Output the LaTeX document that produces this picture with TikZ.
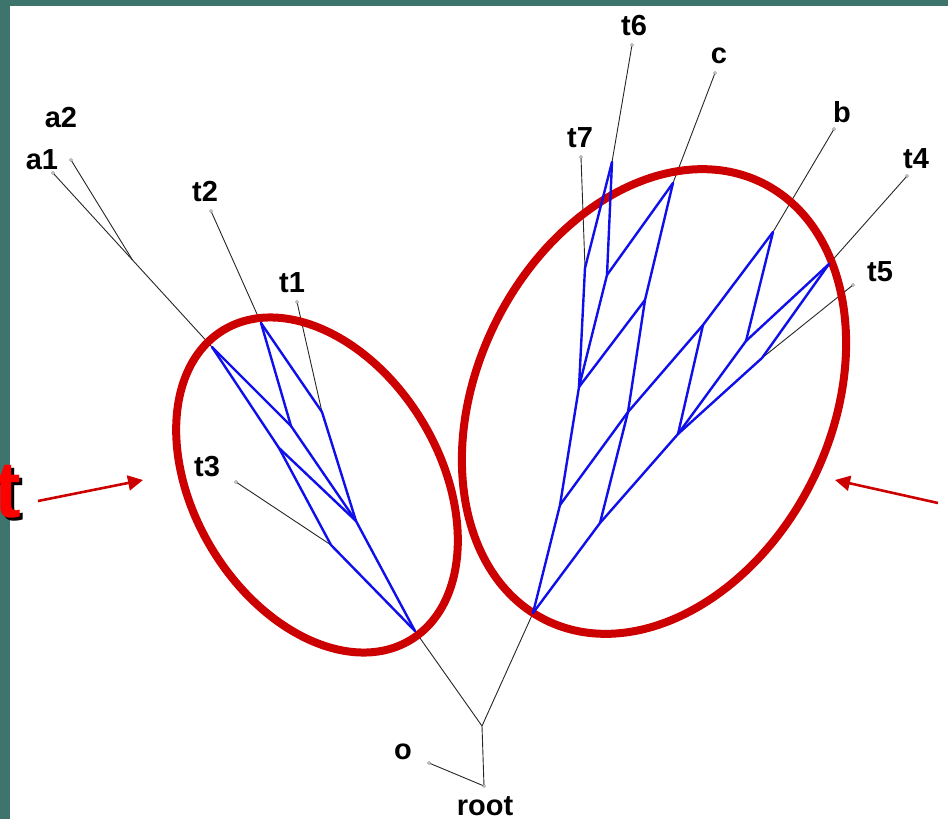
\documentclass[tikz,border=0pt]{standalone}
\usepackage{fontspec}
\setmainfont{Liberation Sans}
\usetikzlibrary{arrows.meta,calc}
\definecolor{slideteal}{RGB}{61,117,108}
\definecolor{gallred}{RGB}{204,0,0}
\definecolor{netblue}{RGB}{15,15,235}
\tikzset{
  net/.style={netblue, line width=2.4pt, line join=round, line cap=round},
  twig/.style={black!85, line width=0.9pt},
  leafdot/.style={draw=gray, fill=white, line width=0.6pt},
  lbl/.style={font=\fontsize{29}{30}\selectfont\bfseries, inner sep=0pt},
  gall/.style={gallred, line width=8pt},
  hint/.style={gallred, line width=2.6pt, -{Triangle[length=15pt,width=15pt]}},
}

\begin{document}
\begin{tikzpicture}[x=1pt,y=-1pt]
    \useasboundingbox (0,0) rectangle (948,819);
    % slide frame
    \fill[slideteal] (0,0) rectangle (948,6);
    \fill[slideteal] (0,0) rectangle (10,819);
    % cut-off title letter
    \node[font=\fontsize{80}{80}\selectfont\bfseries, inner sep=0pt, anchor=south east, black] (cutb) at (24,521) {t};
    \node[font=\fontsize{80}{80}\selectfont\bfseries, inner sep=0pt, anchor=south east, red] (cutr) at (21,518) {t};

    % root and outgroup
    \coordinate (rt) at (484,786);
    \coordinate (od) at (429,763);
    \coordinate (fork) at (482,726);
    % left gall
    \coordinate (lb) at (415,631);
    \coordinate (A) at (212,347);
    \coordinate (T2) at (261,323);
    \coordinate (T1) at (322,412);
    \coordinate (M) at (291,426);
    \coordinate (N) at (279,448);
    \coordinate (P) at (356,521);
    \coordinate (Q) at (331,545);
    % right gall
    \coordinate (rb) at (533,613);
    \coordinate (R1) at (560,505);
    \coordinate (R2) at (600,523);
    \coordinate (X) at (628,412);
    \coordinate (R3) at (579,387);
    \coordinate (T7) at (585,268);
    \coordinate (T6) at (612,162);
    \coordinate (S) at (607,275);
    \coordinate (C) at (673,183);
    \coordinate (R7) at (645,300);
    \coordinate (R6) at (703,325);
    \coordinate (R5) at (678,434);
    \coordinate (Bn) at (773,232);
    \coordinate (R8) at (746,341);
    \coordinate (T4) at (829,264);
    \coordinate (T5) at (762,358);
    % leaf ends
    \coordinate (a1d) at (53,173);
    \coordinate (a2d) at (71,160);
    \coordinate (J) at ($(a1d)!0.5!(A)$);
    \coordinate (t2d) at (211,211);
    \coordinate (t1d) at (297,302);
    \coordinate (t3d) at (236,482);
    \coordinate (t7d) at (581,157);
    \coordinate (t6d) at (632,45);
    \coordinate (cd) at (715,73);
    \coordinate (bd) at (834,129);
    \coordinate (t4d) at (907,176);
    \coordinate (t5d) at (853,285);

    % thin tree edges
    \foreach \u/\v in {rt/fork, od/rt, fork/lb, fork/rb, a1d/A, a2d/J, t2d/T2, t1d/T1, t3d/Q,
                       t7d/T7, t6d/T6, cd/C, bd/Bn, t4d/T4, t5d/T5}
      \draw[twig] (\u) -- (\v);
    \foreach \d in {rt,od,a1d,a2d,t2d,t1d,t3d,t7d,t6d,cd,bd,t4d,t5d}
      \draw[leafdot] (\d) circle (1.5pt);

    % galls
    \draw[gall, rotate around={-58.9:(317,485)}] (317,485) ellipse [x radius=181pt, y radius=123pt];
    \draw[gall, rotate around={63.6:(654,401.5)}] (654,401.5) ellipse [x radius=244pt, y radius=177pt];

    % reticulate edges
    \foreach \u/\v in {A/M, M/P, T2/M, T2/T1, T1/P, A/N, N/P, N/Q, Q/lb, P/lb}
      \draw[net] (\u) -- (\v);
    \foreach \u/\v in {rb/R1, rb/R2, R1/R3, R1/X, X/R6, R2/X, X/R7, R2/R5, R3/T7, T7/T6,
                       R3/S, S/T6, S/C, R3/R7, R7/C, R6/Bn, R6/R5, Bn/R8, R8/T4,
                       R5/R8, R5/T5, T5/T4}
      \draw[net] (\u) -- (\v);

    % taxon labels
    \node[lbl] (la2) at (61,118) {a2};
    \node[lbl] (la1) at (42,160) {a1};
    \node[lbl] (lt2) at (205,192) {t2};
    \node[lbl] (lt1) at (292,283) {t1};
    \node[lbl] (lt3) at (207,467) {t3};
    \node[lbl] (lo) at (403,752) {o};
    \node[lbl] (lroot) at (485,806) {root};
    \node[lbl] (lt7) at (580,138) {t7};
    \node[lbl] (lt6) at (634,26) {t6};
    \node[lbl] (lc) at (719,56) {c};
    \node[lbl] (lb2) at (842,112) {b};
    \node[lbl] (lt4) at (916,159) {t4};
    \node[lbl] (lt5) at (880,272) {t5};

    % pointers
    \coordinate (lh0) at (38,501);
    \coordinate (lh1) at (143,480);
    \coordinate (rh0) at (938,503);
    \coordinate (rh1) at (835,480);
    \draw[hint] (lh0) -- (lh1);
    \draw[hint] (rh0) -- (rh1);
\end{tikzpicture}
\end{document}
